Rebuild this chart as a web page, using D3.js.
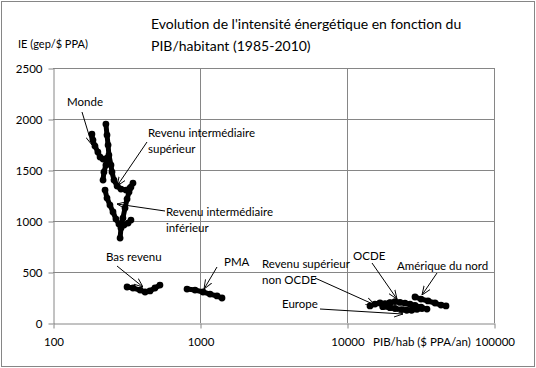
<!DOCTYPE html>
<html>
<head>
<meta charset="utf-8">
<script src="https://cdn.jsdelivr.net/npm/d3@7"></script>
<style>
  body { margin: 0; background: #fff; }
  svg { display: block; font-family: Lato, "Open Sans", sans-serif; }
</style>
</head>
<body>
<svg></svg>
<script>
const [WIDTH, HEIGHT] = [536, 368]

// tick values
const xTicks = [100, 1000, 10000, 100000]
const yTicks = [0, 500, 1000, 1500, 2000, 2500]

// series (PIB/hab, IE)
const mondeX = [184, 187, 193, 202, 209, 219, 233, 229, 222, 219]
const mondeY = [1852, 1793, 1735, 1676, 1627, 1607, 1617, 1548, 1480, 1401]

const intSupX = [229, 233, 237, 240, 248, 252, 260, 273, 290, 314, 334, 350]
const intSupY = [1950, 1842, 1744, 1646, 1548, 1480, 1401, 1343, 1313, 1303, 1323, 1372]

const intInfX = [226, 233, 244, 256, 268, 281, 304, 324, 339]
const intInfY = [1303, 1225, 1156, 1088, 1019, 970, 960, 980, 1009]

const intX = [286, 290, 299, 309, 319, 329, 339]
const intY = [833, 931, 1029, 1127, 1215, 1284, 1333]

const basX = [319, 350, 391, 423, 457, 494, 534]
const basY = [353, 343, 323, 304, 314, 343, 372]

const pmaX = [816, 925, 1048, 1170, 1305, 1411]
const pmaY = [333, 323, 304, 284, 265, 245]

const nonOcdeX = [14340, 15504, 16770, 18135, 19610]
const nonOcdeY = [167, 186, 196, 186, 196]

const ocdeX = [18135, 19610, 21210, 22930, 24800, 26830, 29010, 31870, 35000]
const ocdeY = [190, 200, 210, 202, 194, 184, 172, 155, 137]

const europeX = [17500, 19610, 21210, 23660, 25500, 27500, 29940, 32370]
const europeY = [160, 150, 142, 132, 125, 125, 135, 142]

const amnX = [29010, 31870, 35560, 39680, 43600, 47150]
const amnY = [255, 235, 216, 196, 176, 167]

const series = [
  [mondeX, mondeY], [intSupX, intSupY], [intInfX, intInfY], [intX, intY],
  [basX, basY], [pmaX, pmaY], [nonOcdeX, nonOcdeY], [ocdeX, ocdeY],
  [europeX, europeY], [amnX, amnY]
].map(([xs, ys]) => xs.map((v, i) => ({ x: v, y: ys[i] })))

// labels with arrows: text lines, text anchor point, arrow start, arrow tip (pixels)
const notes = [
  { lines: ["Monde"], tx: 67, ty: 106, from: [82, 112], to: [92, 145] },
  { lines: ["Revenu intermédiaire", "supérieur"], tx: 148, ty: 137, from: [147, 142], to: [117, 186] },
  { lines: ["Revenu intermédiaire", "inférieur"], tx: 166, ty: 216, from: [165, 211], to: [117, 204] },
  { lines: ["Bas revenu"], tx: 106, ty: 261, from: [117, 266], to: [143, 287] },
  { lines: ["PMA"], tx: 224, ty: 266, from: [217, 267], to: [204, 289] },
  { lines: ["Revenu supérieur", "non OCDE"], tx: 262, ty: 268, from: [315, 278], to: [375, 305] },
  { lines: ["OCDE"], tx: 353, ty: 260, from: [372, 263], to: [397, 299] },
  { lines: ["Amérique du nord"], tx: 397, ty: 270, from: [437, 273], to: [422, 295] },
  { lines: ["Europe"], tx: 282, ty: 308, from: [320, 309], to: [403, 314] }
]

const state = {}

function setupSvg() {
  state['svg'] = d3.select("svg")
    .attr("width", WIDTH).attr("height", HEIGHT)
    .attr("viewBox", "0 0 " + WIDTH + " " + HEIGHT)
}

function main() {
  setupSvg()
  const svg = state['svg']

  const x = d3.scaleLog().domain([100, 100000]).range([53, 494])
  const y = d3.scaleLinear().domain([0, 2500]).range([323, 68])

  // chart frame
  svg.append("rect")
    .attr("x", 1.5).attr("y", 1.5).attr("width", WIDTH - 3).attr("height", HEIGHT - 3)
    .attr("fill", "#fff").attr("stroke", "#868686")

  const grid = svg.append("g").attr("stroke", "#868686").attr("stroke-width", 1)
  grid.selectAll(".h").data(yTicks.slice(1)).enter().append("line")
    .attr("x1", 53).attr("x2", 494)
    .attr("y1", d => Math.round(y(d)) + 0.5).attr("y2", d => Math.round(y(d)) + 0.5)
  grid.selectAll(".v").data(xTicks.slice(1)).enter().append("line")
    .attr("y1", 68).attr("y2", 323)
    .attr("x1", d => Math.round(x(d)) + 0.5).attr("x2", d => Math.round(x(d)) + 0.5)

  // axes
  const yAxis = svg.append("g").attr("transform", "translate(53.5,0.5)")
    .call(d3.axisLeft(y).tickValues(yTicks).tickFormat(d3.format("d")).tickSize(5).tickPadding(6).tickSizeOuter(0))
  const xAxis = svg.append("g").attr("transform", "translate(0.5,323.5)")
    .call(d3.axisBottom(x).tickValues(xTicks).tickFormat(d3.format("d")).tickSize(5).tickPadding(9).tickSizeOuter(0))
  for (const ax of [xAxis, yAxis]) {
    ax.select(".domain").attr("stroke", "#868686")
    ax.selectAll(".tick line").attr("stroke", "#868686")
    ax.selectAll("text").attr("fill", "#000").attr("font-size", 11.5).attr("font-family", "Lato")
  }

  // series
  const line = d3.line().x(d => x(d.x)).y(d => y(d.y)).curve(d3.curveLinear)
  const marks = svg.append("g")
  marks.selectAll("path").data(series).enter().append("path")
    .attr("d", line)
    .attr("fill", "none").attr("stroke", "#000").attr("stroke-width", 5)
    .attr("stroke-linejoin", "round").attr("stroke-linecap", "round")
  marks.selectAll("g").data(series).enter().append("g")
    .selectAll("circle").data(d => d).enter().append("circle")
    .attr("cx", d => x(d.x)).attr("cy", d => y(d.y)).attr("r", 3.4).attr("fill", "#000")

  // annotations
  svg.append("defs").append("marker")
    .attr("id", "arrow").attr("viewBox", "0 0 10 10")
    .attr("refX", 10).attr("refY", 5).attr("markerWidth", 9).attr("markerHeight", 9)
    .attr("markerUnits", "userSpaceOnUse").attr("orient", "auto")
    .append("path").attr("d", "M0,1 L10,5 L0,9").attr("fill", "none").attr("stroke", "#000").attr("stroke-width", 1)

  const ann = svg.append("g")
  ann.selectAll("line").data(notes).enter().append("line")
    .attr("x1", d => d.from[0]).attr("y1", d => d.from[1])
    .attr("x2", d => d.to[0]).attr("y2", d => d.to[1])
    .attr("stroke", "#000").attr("stroke-width", 1).attr("marker-end", "url(#arrow)")
  ann.selectAll("text").data(notes).enter().append("text")
    .attr("x", d => d.tx).attr("y", d => d.ty)
    .attr("font-size", 11.5).attr("fill", "#000")
    .selectAll("tspan").data(d => d.lines.map((l, i) => ({ l, i, tx: d.tx }))).enter().append("tspan")
    .attr("x", d => d.tx).attr("dy", d => d.i ? 16 : 0).text(d => d.l)

  // titles
  const title = svg.append("text").attr("x", 151).attr("y", 29).attr("font-size", 14).attr("fill", "#000")
  title.append("tspan").attr("x", 151).text("Evolution de l'intensité énergétique en fonction du")
  title.append("tspan").attr("x", 151).attr("dy", 22).text("PIB/habitant (1985-2010)")

  svg.append("text").attr("x", 18).attr("y", 48).attr("font-size", 11).attr("fill", "#000")
    .text("IE (gep/$ PPA)")
  svg.append("text").attr("x", 373).attr("y", 346).attr("font-size", 11.5).attr("fill", "#000")
    .text("PIB/hab ($ PPA/an)")
}

main()
</script>
</body>
</html>
